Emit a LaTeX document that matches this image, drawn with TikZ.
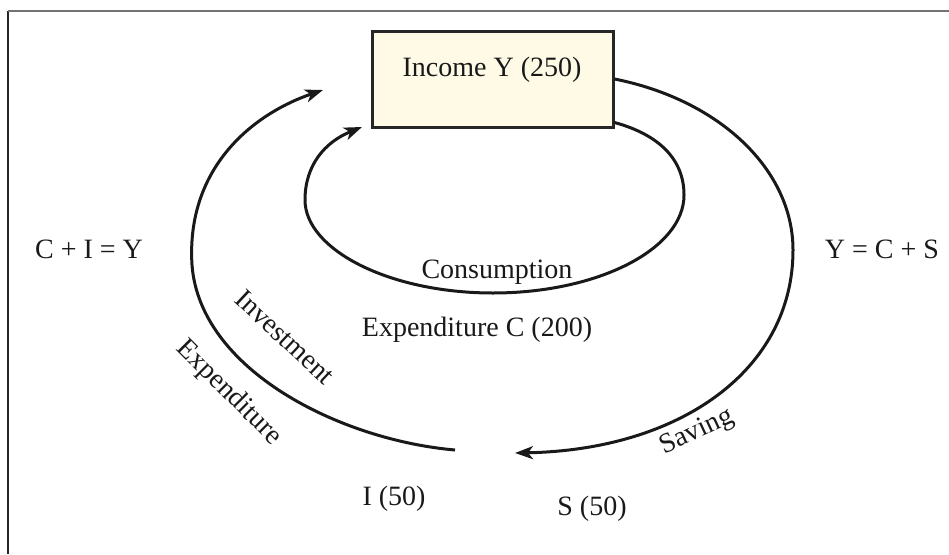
\documentclass[tikz,border=0pt]{standalone}
\usepackage{fontspec}
\setmainfont{Liberation Serif}
\usetikzlibrary{arrows.meta}
\definecolor{boxfill}{HTML}{FEFAE6}
\begin{document}
\begin{tikzpicture}[x=1pt,y=-1pt,
  lbl/.style={font=\fontsize{28}{32}\selectfont, inner sep=0pt, text=black!90},
  flow/.style={line width=3pt, draw=black!90, -{Stealth[length=18pt,width=13pt,inset=5pt]}},
  plain/.style={line width=3pt, draw=black!90}]
\useasboundingbox (0,0) rectangle (949,554);
% frame
\draw[line width=2pt, black!85] (8,554) -- (8,11);
\draw[line width=2pt, black!55] (8,11) -- (949,11);
% income box
\node[draw=black!85, line width=3pt, fill=boxfill, minimum width=241pt, minimum height=96pt, inner sep=0pt] (inc) at (492.5,79) {};
\node[lbl, anchor=base] (inct) at (492,76) {Income Y (250)};
% coordinates for free ends
\coordinate (outerTip) at (323,90);
\coordinate (innerTip) at (362,127);
\coordinate (saveTip) at (515,453);
\coordinate (invStart) at (455,450);
% outer right: income -> saving
\draw[flow] (inc.east) .. controls (720,100) and (793,170) .. (793,250)
  .. controls (793,370) and (680,450) .. (saveTip);
% outer left: investment -> income
\draw[flow] (invStart) .. controls (340,440) and (200,370) .. (192,265)
  .. controls (186,170) and (250,115) .. (outerTip);
% inner loop: consumption
\draw[flow] ([yshift=6pt]inc.south east) .. controls (660,135) and (684,160) .. (684,195)
  .. controls (684,249) and (598,293) .. (493,293)
  .. controls (388,293) and (305,249) .. (305,200)
  .. controls (305,165) and (325,142) .. (innerTip);
% labels
\node[lbl, anchor=base] (cie) at (89,258) {C + I = Y};
\node[lbl, anchor=base] (yce) at (882,258) {Y = C + S};
\node[lbl, anchor=base] (cons) at (497,278) {Consumption};
\node[lbl, anchor=base] (expc) at (477,336) {Expenditure C (200)};
\node[lbl, anchor=base] (i50) at (394,505) {I (50)};
\node[lbl, anchor=base] (s50) at (592,515) {S (50)};
\node[lbl, rotate=25] (sav) at (697,432) {Saving};
\node[lbl, rotate=-43] (inv) at (285,337) {Investment};
\node[lbl, rotate=-45] (expi) at (229,393) {Expenditure};
\end{tikzpicture}
\end{document}
